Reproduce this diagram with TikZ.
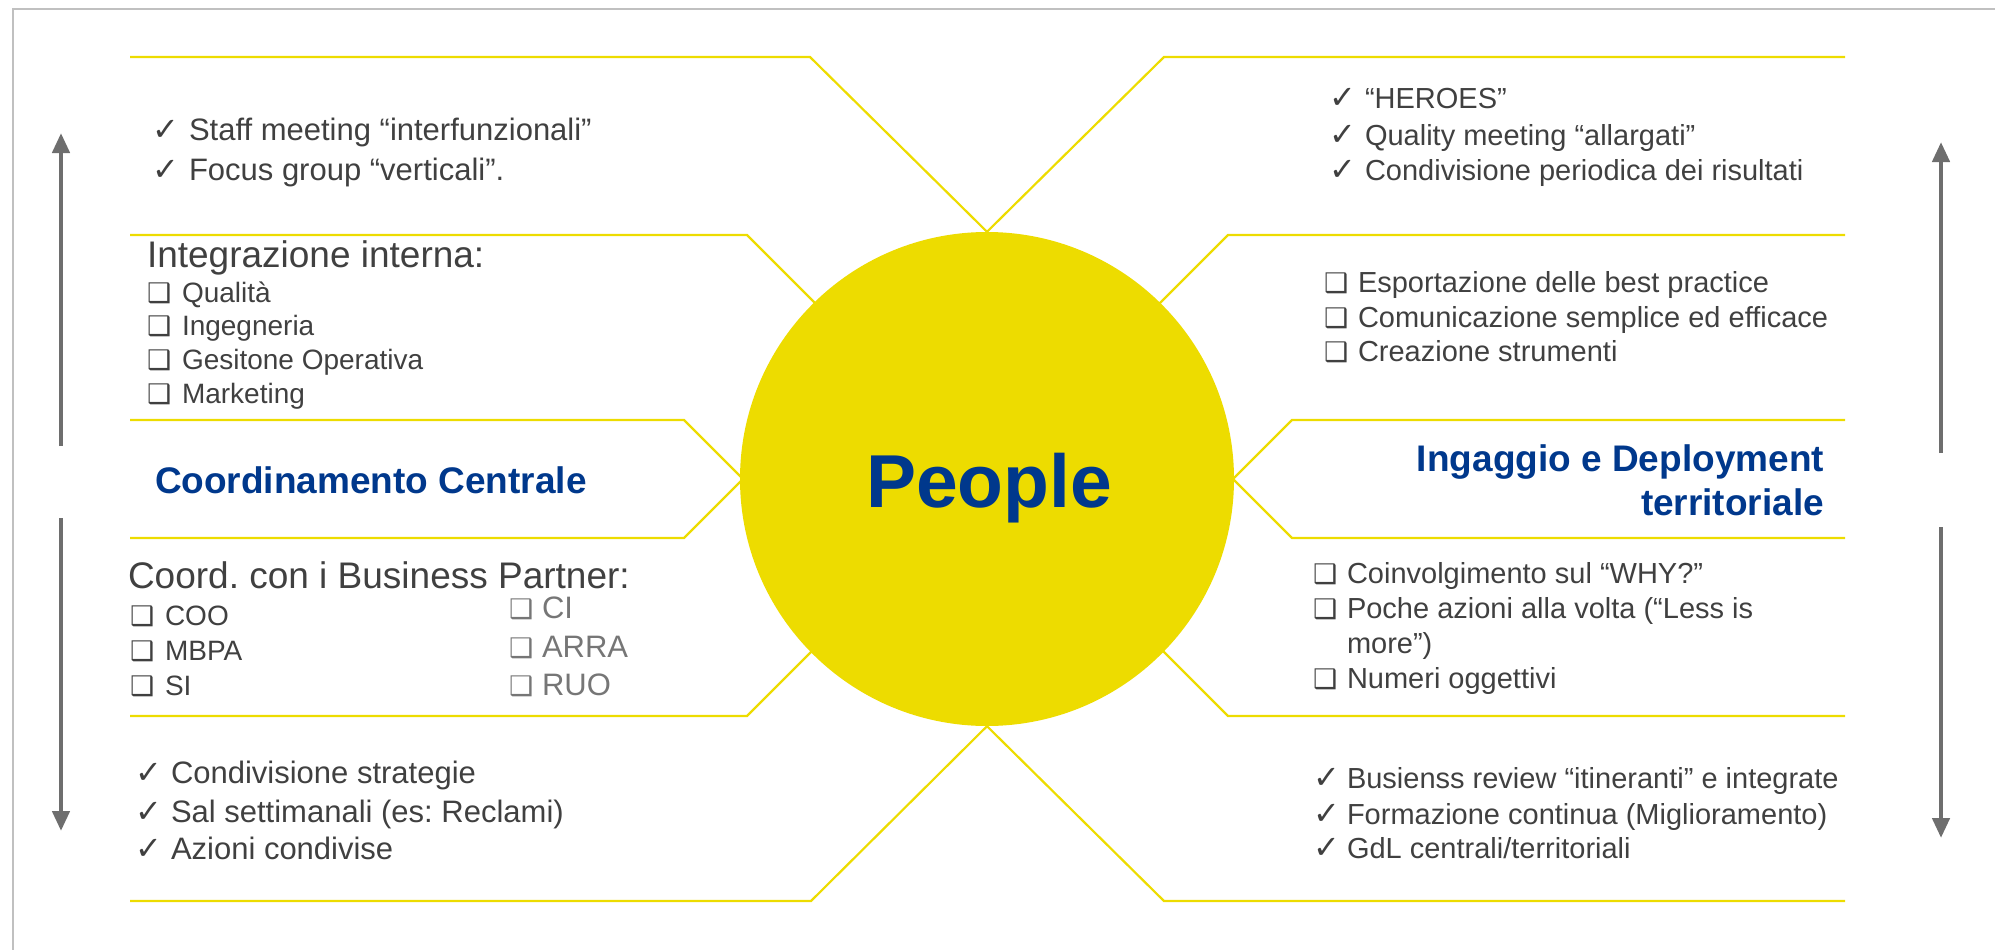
\documentclass[tikz,border=0pt]{standalone}
\usepackage{fontspec}
\setmainfont{Liberation Sans}
\newfontfamily\symfont{DejaVu Sans}
\usetikzlibrary{arrows.meta}
\definecolor{ylw}{RGB}{237,220,0}
\definecolor{navy}{RGB}{0,56,140}
\definecolor{txtgray}{RGB}{64,64,64}
\definecolor{ltgray}{RGB}{118,118,118}
\definecolor{arrgray}{RGB}{110,110,110}
\definecolor{bordergray}{RGB}{192,192,192}
\newcommand\fsz[1]{\fontsize{#1}{#1}\selectfont}
\frenchspacing
\pgfdeclarelayer{bg}
\pgfsetlayers{bg,main}
\begin{document}
\begin{tikzpicture}[x=1pt,y=-1pt,
  txt/.style={anchor=base west, inner sep=0pt, outer sep=0pt, text=txtgray},
  big/.style={txt, font=\fsz{37}},
  itl/.style={txt, font=\fsz{31}},
  itm/.style={txt, font=\fsz{28}},
  itr/.style={txt, font=\fsz{29}},
  chk/.style={txt, font=\symfont\fsz{32}},
  bxs/.style={txt, font=\symfont\fsz{27}},
  ttl/.style={inner sep=0pt, outer sep=0pt, text=navy, font=\bfseries\fsz{37}},
  yl/.style={draw=ylw, line width=2.2pt},
  arr/.style={draw=arrgray, line width=4.5pt, -{Triangle[length=20pt,width=17pt]}}]
\useasboundingbox (0,0) rectangle (1995,950);
% border
\draw[bordergray, line width=2.5pt] (13,950) -- (13,9) -- (1995,9);
% central circle
\node[circle, fill=ylw, minimum size=494pt, inner sep=0pt] (core) at (987,479) {};
\node[anchor=base, inner sep=0pt, text=navy, font=\bfseries\fsz{75}] (ppl) at (989,507) {People};
% yellow lines
\begin{pgfonlayer}{bg}
\draw[yl] (130,57) -- (810,57) -- (core.north);
\draw[yl] (130,235) -- (747,235) -- ++(100,100);
\draw[yl] (130,420) -- (684,420) -- ++(80,80);
\draw[yl] (130,538) -- (684,538) -- ++(80,-80);
\draw[yl] (130,716) -- (747,716) -- ++(100,-100);
\draw[yl] (130,901) -- (811,901) -- (core.south);
\draw[yl] (1845,57) -- (1164,57) -- (core.north);
\draw[yl] (1845,235) -- (1228,235) -- ++(-100,100);
\draw[yl] (1845,420) -- (1292,420) -- ++(-80,80);
\draw[yl] (1845,538) -- (1292,538) -- ++(-80,-80);
\draw[yl] (1845,716) -- (1228,716) -- ++(-100,-100);
\draw[yl] (1845,901) -- (1164,901) -- (core.south);
\end{pgfonlayer}
% arrows
\coordinate (lua) at (61,446); \coordinate (lub) at (61,133);
\coordinate (lda) at (61,518); \coordinate (ldb) at (61,831);
\coordinate (rua) at (1941,453); \coordinate (rub) at (1941,142);
\coordinate (rda) at (1941,527); \coordinate (rdb) at (1941,838);
\draw[arr] (lua) -- (lub);
\draw[arr] (lda) -- (ldb);
\draw[arr] (rua) -- (rub);
\draw[arr] (rda) -- (rdb);
% top-left
\node[chk] (tlc1) at (152,140) {✓};
\node[itl] (tl1) at (189,140) {Staff meeting “interfunzionali”};
\node[chk] (tlc2) at (152,180) {✓};
\node[itl] (tl2) at (189,180) {Focus group “verticali”.};
% integrazione
\node[big] (ii) at (147,267) {Integrazione interna:};
\node[bxs] (iib1) at (147,302) {❑};
\node[itm] (ii1) at (182,302) {Qualità};
\node[bxs] (iib2) at (147,335) {❑};
\node[itm] (ii2) at (182,335) {Ingegneria};
\node[bxs] (iib3) at (147,369) {❑};
\node[itm] (ii3) at (182,369) {Gesitone Operativa};
\node[bxs] (iib4) at (147,403) {❑};
\node[itm] (ii4) at (182,403) {Marketing};
% coordinamento
\node[ttl, anchor=base west] (cc) at (155,493) {Coordinamento Centrale};
% business partner
\node[big] (bp) at (128,588) {Coord. con i Business Partner:};
\node[bxs] (bpb1) at (130,625) {❑};
\node[itm] (bp1) at (165,625) {COO};
\node[bxs] (bpb2) at (130,660) {❑};
\node[itm] (bp2) at (165,660) {MBPA};
\node[bxs] (bpb3) at (130,695) {❑};
\node[itm] (bp3) at (165,695) {SI};
\node[bxs, text=ltgray] (bpb4) at (509,618) {❑};
\node[itl, text=ltgray] (bp4) at (542,618) {CI};
\node[bxs, text=ltgray] (bpb5) at (509,657) {❑};
\node[itl, text=ltgray] (bp5) at (542,657) {ARRA};
\node[bxs, text=ltgray] (bpb6) at (509,695) {❑};
\node[itl, text=ltgray] (bp6) at (542,695) {RUO};
% bottom-left
\node[chk] (blc1) at (135,783) {✓};
\node[itl] (bl1) at (171,783) {Condivisione strategie};
\node[chk] (blc2) at (135,822) {✓};
\node[itl] (bl2) at (171,822) {Sal settimanali (es: Reclami)};
\node[chk] (blc3) at (135,859) {✓};
\node[itl] (bl3) at (171,859) {Azioni condivise};
% top-right
\node[chk] (trc1) at (1329,108) {✓};
\node[itr] (tr1) at (1365,108) {“HEROES”};
\node[chk] (trc2) at (1329,145) {✓};
\node[itr] (tr2) at (1365,145) {Quality meeting “allargati”};
\node[chk] (trc3) at (1329,180) {✓};
\node[itr] (tr3) at (1365,180) {Condivisione periodica dei risultati};
% right boxes
\node[bxs] (rbb1) at (1324,292) {❑};
\node[itr] (rb1) at (1358,292) {Esportazione delle best practice};
\node[bxs] (rbb2) at (1324,327) {❑};
\node[itr] (rb2) at (1358,327) {Comunicazione semplice ed efficace};
\node[bxs] (rbb3) at (1324,361) {❑};
\node[itr] (rb3) at (1358,361) {Creazione strumenti};
% ingaggio
\node[ttl, anchor=base east] (ig1) at (1824,471) {Ingaggio e Deployment};
\node[ttl, anchor=base east] (ig2) at (1824,515) {territoriale};
% right lower boxes
\node[bxs] (rlb1) at (1313,583) {❑};
\node[itr] (rl1) at (1347,583) {Coinvolgimento sul “WHY?”};
\node[bxs] (rlb2) at (1313,618) {❑};
\node[itr] (rl2) at (1347,618) {Poche azioni alla volta (“Less is};
\node[itr] (rl2b) at (1347,653) {more”)};
\node[bxs] (rlb3) at (1313,688) {❑};
\node[itr] (rl3) at (1347,688) {Numeri oggettivi};
% bottom-right
\node[chk] (brc1) at (1313,788) {✓};
\node[itr] (br1) at (1347,788) {Busienss review “itineranti” e integrate};
\node[chk] (brc2) at (1313,824) {✓};
\node[itr] (br2) at (1347,824) {Formazione continua (Miglioramento)};
\node[chk] (brc3) at (1313,858) {✓};
\node[itr] (br3) at (1347,858) {GdL centrali/territoriali};
\end{tikzpicture}
\end{document}
